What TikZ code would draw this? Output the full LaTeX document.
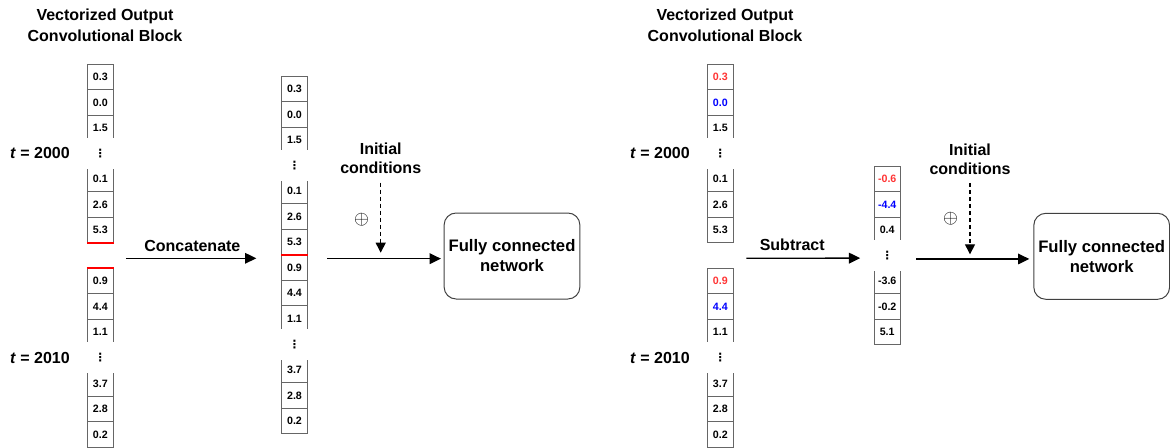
\documentclass[tikz,border=0pt]{standalone}
\usepackage{fontspec}
\setmainfont{Liberation Sans}
\newfontfamily\symfont{DejaVu Sans}
\usetikzlibrary{arrows.meta,positioning}
\definecolor{valred}{HTML}{FF3333}
\definecolor{valblue}{HTML}{0000FF}
\definecolor{seamred}{HTML}{FF0000}
\newcommand{\vdotsx}{{\symfont\bfseries ⋮}}

\begin{document}
\begin{tikzpicture}[x=0.75pt,y=-0.75pt,
  cell/.style={draw=black!60,line width=0.75pt,minimum width=19.5pt,minimum height=19.16pt,
    inner sep=0pt,font=\bfseries\fontsize{8}{9}\selectfont},
  dotcell/.style={fill=white,minimum width=21pt,minimum height=23pt,inner sep=0pt,
    font=\fontsize{8.5}{9}\selectfont},
  head/.style={align=center,font=\bfseries\fontsize{12}{15.75}\selectfont},
  tlabel/.style={inner sep=0pt,font=\bfseries\fontsize{12}{14}\selectfont},
  lbl/.style={align=center,font=\bfseries\fontsize{12}{14.25}\selectfont},
  fcbox/.style={draw=black!75,line width=0.75pt,rounded corners=9pt,align=center,
    minimum width=100.5pt,minimum height=64.5pt,font=\bfseries\fontsize{12.5}{15}\selectfont},
  flow/.style={-{Triangle[length=8.5pt,width=8pt]},line width=1pt},
  dashflow/.style={-{Triangle[length=7.5pt,width=7.5pt]},line width=1pt,dash pattern=on 3pt off 2.25pt},
  seam/.style={seamred,line width=1.5pt}]
  \useasboundingbox (0,0) rectangle (1170,447);

  % ---------- Concatenate ----------
  \node[head] (headA) at (105,25.5) {Vectorized Output\\Convolutional Block};
  % input column
  \foreach \s/\v in {0/0.3,1/0.0,2/1.5,4/0.1,5/2.6,6/5.3,8/0.9,9/4.4,10/1.1,12/3.7,13/2.8,14/0.2}
    \node[cell] (inA\s) at (100.3,{64+25.55*(\s+0.5)}) {\v};
  \node[cell,draw=none] (inA7) at (100.3,{64+25.55*7.5}) {};
  \foreach \s in {3,11}
    \node[dotcell] (inA\s) at (100.3,{64+25.55*(\s+0.5)}) {\vdotsx};
  \draw[seam] (inA6.south west) -- (inA6.south east);
  \draw[seam] (inA8.north west) -- (inA8.north east);
  \node[tlabel,left=12pt of inA3] (tA1) {\textit{t} = 2000};
  \node[tlabel,left=12pt of inA11] (tA2) {\textit{t} = 2010};
  % concatenated column
  \foreach \s/\v in {0/0.3,1/0.0,2/1.5,4/0.1,5/2.6,6/5.3,7/0.9,8/4.4,9/1.1,11/3.7,12/2.8,13/0.2}
    \node[cell] (cat\s) at (294.5,{76+25.55*(\s+0.5)}) {\v};
  \foreach \s in {3,10}
    \node[dotcell] (cat\s) at (294.5,{76+25.55*(\s+0.5)}) {\vdotsx};
  \draw[seam] (cat6.south west) -- (cat6.south east);
  \draw[flow,shorten <=9pt,shorten >=18.5pt] ([yshift=-2pt]inA7.east) -- ([yshift=-2pt]inA7.east -| cat7.west)
    node[lbl,above=1.5pt,pos=0.47] {Concatenate};
  % network
  \node[fcbox] (fc1) at (512,256) {Fully connected\\network};
  \draw[flow,shorten <=14.5pt,shorten >=2pt] ([yshift=-2pt]cat7.east |- fc1.west) -- ([yshift=-2pt]fc1.west);
  \node[lbl] (init1) at (380.7,158.5) {Initial\\conditions};
  \draw[dashflow,shorten <=3pt,shorten >=2.5pt] (init1.south) -- (init1.south |- fc1.west);
  \node (plus1) at (361.7,220) {\fontsize{14}{16}\selectfont$\oplus$};

  % ---------- Subtract ----------
  \node[head] (headB) at (725,25.5) {Vectorized Output\\Convolutional Block};
  % input column
  \foreach \s/\v/\c in {0/0.3/valred,1/0.0/valblue,2/1.5/black,4/0.1/black,5/2.6/black,6/5.3/black,
      8/0.9/valred,9/4.4/valblue,10/1.1/black,12/3.7/black,13/2.8/black,14/0.2/black}
    \node[cell,text=\c] (inB\s) at (720.3,{64+25.55*(\s+0.5)}) {\v};
  \node[cell,draw=none] (inB7) at (720.3,{64+25.55*7.5}) {};
  \foreach \s in {3,11}
    \node[dotcell] (inB\s) at (720.3,{64+25.55*(\s+0.5)}) {\vdotsx};
  \node[tlabel,left=12pt of inB3] (tB1) {\textit{t} = 2000};
  \node[tlabel,left=12pt of inB11] (tB2) {\textit{t} = 2010};
  % difference column
  \foreach \s/\v/\c in {0/-0.6/valred,1/-4.4/valblue,2/0.4/black,4/-3.6/black,5/-0.2/black,6/5.1/black}
    \node[cell,text=\c] (diff\s) at (887.2,{166+25.55*(\s+0.5)}) {\v};
  \node[dotcell] (diff3) at (887.2,{166+25.55*3.5}) {\vdotsx};
  \draw[flow,shorten <=9.5pt,shorten >=9.5pt] ([yshift=-2pt]inB7.east) -- ([yshift=-2pt]diff3.west)
    node[lbl,above=1.5pt,pos=0.42] {Subtract};
  % network
  \node[fcbox] (fc2) at (1101.7,256.3) {Fully connected\\network};
  \draw[flow,shorten <=11pt,shorten >=3pt] ([yshift=-2pt]diff3.east |- fc2.west) -- ([yshift=-2pt]fc2.west);
  \node[lbl] (init2) at (970,158.8) {Initial\\conditions};
  \draw[dashflow,shorten <=3pt,shorten >=1.5pt] (init2.south) -- (init2.south |- fc2.west);
  \node (plus2) at (950.7,219) {\fontsize{14}{16}\selectfont$\oplus$};
\end{tikzpicture}
\end{document}
